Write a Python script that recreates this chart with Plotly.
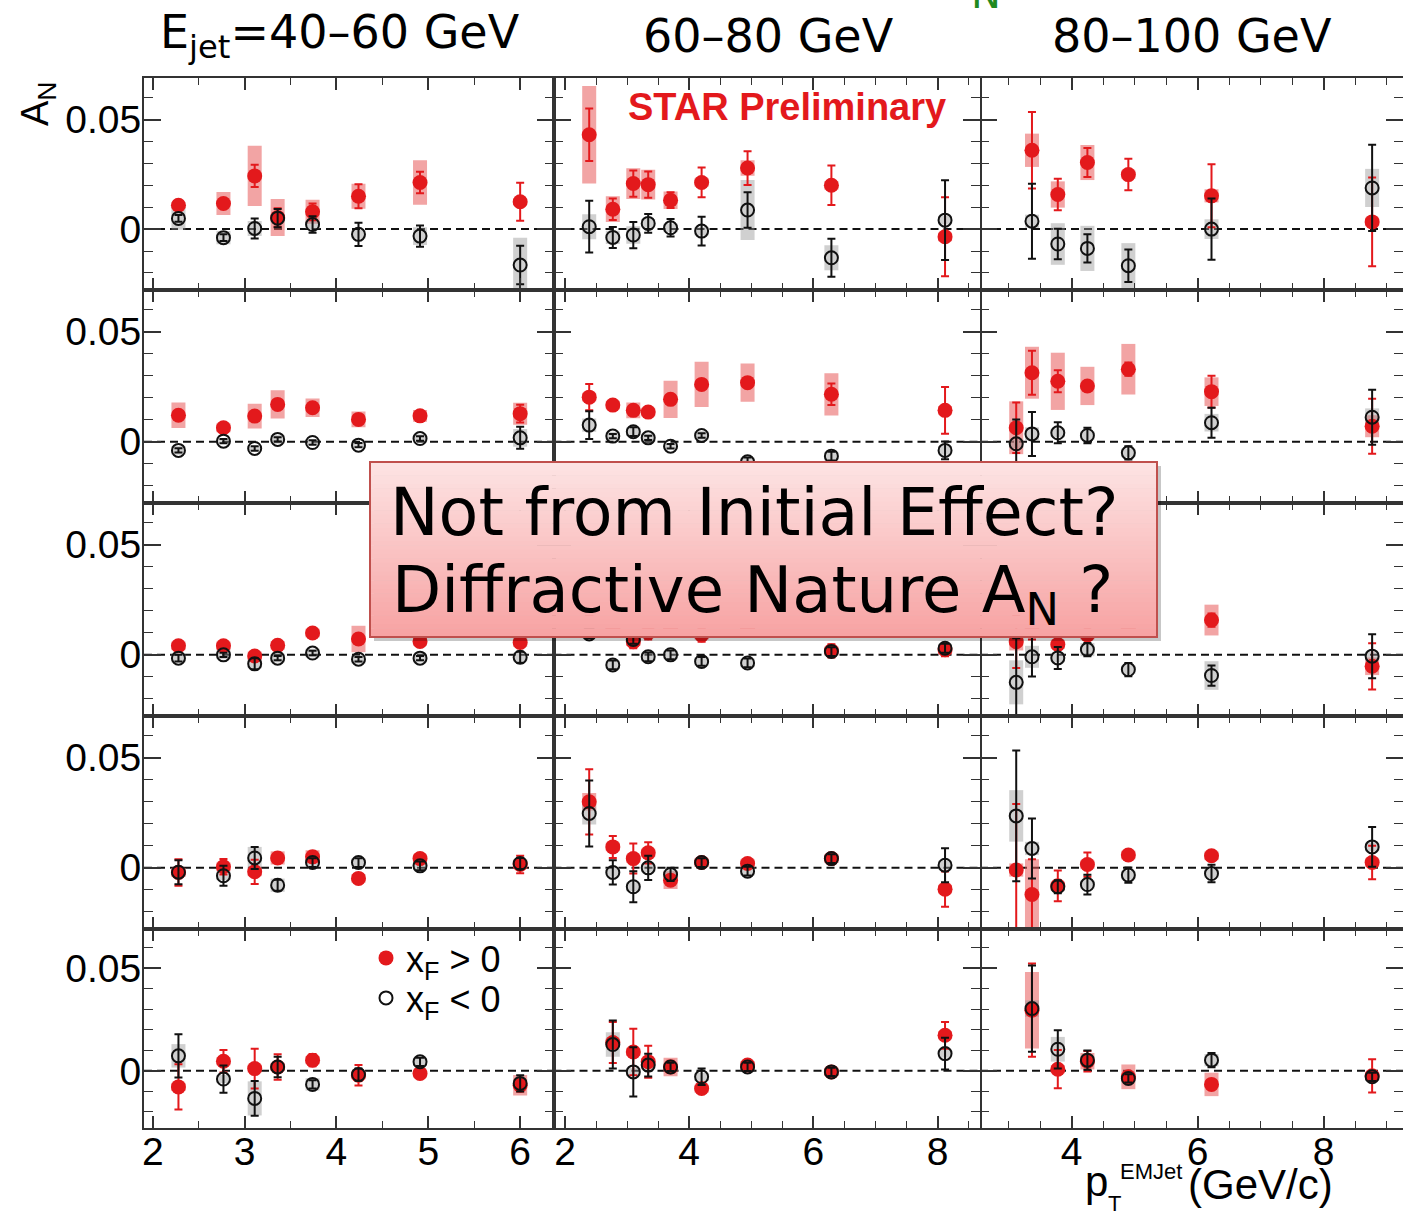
import plotly.graph_objects as go
from plotly.subplots import make_subplots

# ---------------------------------------------------------------------------
# Mean pT of each EM-jet bin (GeV/c), one list per jet-energy column
# ---------------------------------------------------------------------------
PT_40_60 = [2.28, 2.77, 3.11, 3.36, 3.74, 4.24, 4.91, 6.00]
PT_60_80 = [2.39, 2.77, 3.10, 3.34, 3.70, 4.20, 4.94, 6.29, 8.12]
PT_80_100 = [3.12, 3.37, 3.78, 4.25, 4.90, 6.22, 8.77]

COL_TITLES = ["E<sub>jet</sub>=40–60 GeV", "60–80 GeV", "80–100 GeV"]

# ---------------------------------------------------------------------------
# A_N, statistical and systematic uncertainties; one inner list per row
# (rows ordered top to bottom).  POS = x_F > 0, NEG = x_F < 0
# ---------------------------------------------------------------------------
AN_POS_40_60 = [
    [0.0109, 0.0117, 0.0243, 0.0053, 0.0079, 0.0150, 0.0213, 0.0125],
    [0.0121, 0.0064, 0.0117, 0.0170, 0.0155, 0.0102, 0.0118, 0.0128],
    [0.0041, 0.0041, -0.0005, 0.0043, 0.0099, 0.0072, 0.0061, 0.0056],
    [-0.0021, 0.0005, -0.0018, 0.0045, 0.0050, -0.0048, 0.0042, 0.0015],
    [-0.0078, 0.0047, 0.0011, 0.0019, 0.0052, -0.0021, -0.0013, -0.0070],
]
STAT_POS_40_60 = [
    [0.0020, 0.0020, 0.0051, 0.0042, 0.0038, 0.0055, 0.0049, 0.0087],
    [0.0015, 0.0015, 0.0015, 0.0015, 0.0015, 0.0015, 0.0015, 0.0040],
    [0.0015, 0.0015, 0.0015, 0.0015, 0.0015, 0.0015, 0.0015, 0.0015],
    [0.0060, 0.0035, 0.0055, 0.0020, 0.0020, 0.0020, 0.0020, 0.0040],
    [0.0110, 0.0055, 0.0097, 0.0062, 0.0030, 0.0050, 0.0020, 0.0030],
]
SYS_POS_40_60 = [
    [0.0015, 0.0052, 0.0138, 0.0085, 0.0055, 0.0057, 0.0102, 0.0015],
    [0.0058, 0.0020, 0.0056, 0.0064, 0.0042, 0.0036, 0.0027, 0.0050],
    [0.0020, 0.0020, 0.0020, 0.0020, 0.0020, 0.0060, 0.0020, 0.0020],
    [0.0020, 0.0020, 0.0020, 0.0030, 0.0030, 0.0020, 0.0020, 0.0020],
    [0.0020, 0.0020, 0.0020, 0.0020, 0.0020, 0.0020, 0.0020, 0.0050],
]
AN_NEG_40_60 = [
    [0.0049, -0.0039, 0.0003, 0.0050, 0.0021, -0.0024, -0.0032, -0.0164],
    [-0.0039, 0.0003, -0.0030, 0.0011, -0.0003, -0.0015, 0.0015, 0.0018],
    [-0.0015, 0.0000, -0.0041, -0.0015, 0.0008, -0.0020, -0.0015, -0.0011],
    [-0.0020, -0.0036, 0.0045, -0.0079, 0.0024, 0.0024, 0.0009, 0.0020],
    [0.0073, -0.0040, -0.0134, 0.0019, -0.0066, -0.0018, 0.0044, -0.0061],
]
STAT_NEG_40_60 = [
    [0.0015, 0.0015, 0.0046, 0.0042, 0.0038, 0.0053, 0.0048, 0.0088],
    [0.0010, 0.0010, 0.0010, 0.0010, 0.0010, 0.0010, 0.0010, 0.0050],
    [0.0015, 0.0010, 0.0025, 0.0010, 0.0010, 0.0010, 0.0010, 0.0025],
    [0.0055, 0.0045, 0.0050, 0.0025, 0.0020, 0.0020, 0.0020, 0.0025],
    [0.0105, 0.0066, 0.0085, 0.0050, 0.0020, 0.0030, 0.0020, 0.0040],
]
SYS_NEG_40_60 = [
    [0.0052, 0.0030, 0.0034, 0.0020, 0.0020, 0.0020, 0.0040, 0.0125],
    [0.0020, 0.0010, 0.0010, 0.0020, 0.0010, 0.0010, 0.0020, 0.0040],
    [0.0020, 0.0020, 0.0020, 0.0020, 0.0020, 0.0020, 0.0020, 0.0020],
    [0.0020, 0.0020, 0.0050, 0.0030, 0.0020, 0.0020, 0.0020, 0.0020],
    [0.0057, 0.0020, 0.0083, 0.0020, 0.0030, 0.0020, 0.0020, 0.0020],
]

AN_POS_60_80 = [
    [0.0431, 0.0091, 0.0208, 0.0203, 0.0132, 0.0213, 0.0279, 0.0200, -0.0035],
    [0.0203, 0.0167, 0.0143, 0.0135, 0.0193, 0.0261, 0.0269, 0.0216, 0.0143],
    [0.0150, 0.0120, 0.0060, 0.0100, 0.0120, 0.0090, 0.0120, 0.0018, 0.0023],
    [0.0300, 0.0095, 0.0042, 0.0068, -0.0056, 0.0024, 0.0020, 0.0042, -0.0097],
    [None, 0.0138, 0.0092, 0.0044, 0.0019, -0.0086, 0.0028, -0.0005, 0.0173],
]
STAT_POS_60_80 = [
    [0.0120, 0.0049, 0.0060, 0.0060, 0.0036, 0.0068, 0.0077, 0.0090, 0.0180],
    [0.0060, 0.0015, 0.0015, 0.0015, 0.0020, 0.0020, 0.0020, 0.0049, 0.0106],
    [0.0030, 0.0030, 0.0030, 0.0030, 0.0030, 0.0030, 0.0030, 0.0030, 0.0030],
    [0.0148, 0.0050, 0.0068, 0.0048, 0.0020, 0.0020, 0.0020, 0.0020, 0.0080],
    [None, 0.0100, 0.0113, 0.0078, 0.0030, 0.0020, 0.0020, 0.0020, 0.0065],
]
SYS_POS_60_80 = [
    [0.0223, 0.0059, 0.0070, 0.0068, 0.0040, 0.0020, 0.0035, 0.0020, 0.0020],
    [0.0020, 0.0020, 0.0036, 0.0020, 0.0085, 0.0103, 0.0087, 0.0096, 0.0020],
    [0.0020, 0.0020, 0.0020, 0.0020, 0.0020, 0.0020, 0.0020, 0.0020, 0.0020],
    [0.0040, 0.0020, 0.0020, 0.0020, 0.0040, 0.0020, 0.0020, 0.0020, 0.0020],
    [None, 0.0020, 0.0020, 0.0020, 0.0045, 0.0020, 0.0020, 0.0020, 0.0020],
]
AN_NEG_60_80 = [
    [0.0011, -0.0038, -0.0027, 0.0026, 0.0006, -0.0009, 0.0087, -0.0131, 0.0041],
    [0.0076, 0.0026, 0.0046, 0.0018, -0.0020, 0.0029, -0.0091, -0.0065, -0.0039],
    [0.0095, -0.0046, 0.0070, -0.0009, 0.0000, -0.0030, -0.0037, 0.0015, 0.0030],
    [0.0247, -0.0021, -0.0086, 0.0000, -0.0030, 0.0024, -0.0015, 0.0042, 0.0012],
    [None, 0.0128, -0.0005, 0.0028, 0.0019, -0.0029, 0.0019, -0.0005, 0.0084],
]
STAT_NEG_60_80 = [
    [0.0118, 0.0048, 0.0060, 0.0043, 0.0040, 0.0066, 0.0081, 0.0087, 0.0182],
    [0.0063, 0.0010, 0.0020, 0.0010, 0.0010, 0.0010, 0.0020, 0.0020, 0.0040],
    [0.0020, 0.0020, 0.0020, 0.0020, 0.0020, 0.0020, 0.0020, 0.0020, 0.0020],
    [0.0150, 0.0055, 0.0070, 0.0055, 0.0030, 0.0020, 0.0020, 0.0020, 0.0077],
    [None, 0.0117, 0.0120, 0.0055, 0.0020, 0.0040, 0.0020, 0.0020, 0.0077],
]
SYS_NEG_60_80 = [
    [0.0057, 0.0030, 0.0040, 0.0020, 0.0020, 0.0020, 0.0137, 0.0057, 0.0020],
    [0.0030, 0.0020, 0.0020, 0.0020, 0.0010, 0.0020, 0.0020, 0.0020, 0.0020],
    [0.0020, 0.0020, 0.0020, 0.0020, 0.0020, 0.0020, 0.0020, 0.0020, 0.0020],
    [0.0050, 0.0020, 0.0020, 0.0020, 0.0020, 0.0020, 0.0020, 0.0020, 0.0020],
    [None, 0.0060, 0.0020, 0.0020, 0.0020, 0.0020, 0.0020, 0.0020, 0.0020],
]

AN_POS_80_100 = [
    [None, 0.0360, 0.0158, 0.0304, 0.0249, 0.0152, 0.0033],
    [0.0064, 0.0314, 0.0275, 0.0254, 0.0330, 0.0228, 0.0071],
    [0.0060, 0.0110, 0.0047, 0.0090, 0.0120, 0.0158, -0.0052],
    [-0.0010, -0.0121, -0.0082, 0.0015, 0.0058, 0.0055, 0.0024],
    [None, 0.0295, 0.0008, 0.0047, -0.0029, -0.0066, -0.0024],
]
STAT_POS_80_100 = [
    [None, 0.0175, 0.0072, 0.0066, 0.0072, 0.0144, 0.0203],
    [0.0115, 0.0100, 0.0050, 0.0023, 0.0030, 0.0072, 0.0125],
    [0.0120, 0.0040, 0.0020, 0.0020, 0.0030, 0.0030, 0.0105],
    [0.0300, 0.0160, 0.0070, 0.0055, 0.0020, 0.0020, 0.0076],
    [None, 0.0227, 0.0093, 0.0050, 0.0020, 0.0020, 0.0081],
]
SYS_POS_80_100 = [
    [None, 0.0076, 0.0060, 0.0080, 0.0020, 0.0030, 0.0020],
    [0.0120, 0.0118, 0.0130, 0.0087, 0.0115, 0.0065, 0.0050],
    [0.0040, 0.0030, 0.0020, 0.0020, 0.0020, 0.0070, 0.0040],
    [0.0030, 0.0160, 0.0020, 0.0020, 0.0020, 0.0020, 0.0020],
    [None, 0.0186, 0.0020, 0.0040, 0.0060, 0.0057, 0.0020],
]
AN_NEG_80_100 = [
    [None, 0.0036, -0.0068, -0.0088, -0.0167, 0.0000, 0.0188],
    [-0.0009, 0.0036, 0.0041, 0.0029, -0.0050, 0.0087, 0.0112],
    [-0.0125, -0.0009, -0.0014, 0.0024, -0.0067, -0.0094, -0.0006],
    [0.0236, 0.0088, -0.0086, -0.0076, -0.0033, -0.0026, 0.0095],
    [None, 0.0303, 0.0105, 0.0052, -0.0037, 0.0052, -0.0029],
]
STAT_NEG_80_100 = [
    [None, 0.0171, 0.0070, 0.0064, 0.0074, 0.0140, 0.0197],
    [0.0110, 0.0100, 0.0048, 0.0035, 0.0030, 0.0068, 0.0125],
    [0.0200, 0.0090, 0.0050, 0.0030, 0.0030, 0.0046, 0.0100],
    [0.0297, 0.0136, 0.0030, 0.0045, 0.0035, 0.0040, 0.0090],
    [None, 0.0210, 0.0093, 0.0047, 0.0020, 0.0035, 0.0020],
]
SYS_NEG_80_100 = [
    [None, 0.0030, 0.0095, 0.0103, 0.0103, 0.0045, 0.0087],
    [0.0020, 0.0030, 0.0020, 0.0020, 0.0020, 0.0040, 0.0040],
    [0.0100, 0.0050, 0.0020, 0.0030, 0.0020, 0.0065, 0.0020],
    [0.0117, 0.0030, 0.0020, 0.0020, 0.0020, 0.0020, 0.0020],
    [None, 0.0040, 0.0060, 0.0020, 0.0020, 0.0030, 0.0020],
]

COLUMNS = [
    (PT_40_60, AN_POS_40_60, STAT_POS_40_60, SYS_POS_40_60,
     AN_NEG_40_60, STAT_NEG_40_60, SYS_NEG_40_60),
    (PT_60_80, AN_POS_60_80, STAT_POS_60_80, SYS_POS_60_80,
     AN_NEG_60_80, STAT_NEG_60_80, SYS_NEG_60_80),
    (PT_80_100, AN_POS_80_100, STAT_POS_80_100, SYS_POS_80_100,
     AN_NEG_80_100, STAT_NEG_80_100, SYS_NEG_80_100),
]

# ---------------------------------------------------------------------------
# Styling
# ---------------------------------------------------------------------------
W, H = 1403, 1213
ML, MR, MT, MB = 144, 0, 78, 85
PW, PH = W - ML - MR, H - MT - MB

RED = "#e3191c"
RED_SYS = "rgba(232,90,90,0.55)"
GREY_SYS = "rgba(150,150,150,0.45)"
BLACK = "#111111"
FRAME = "#333333"
SANS = "Liberation Sans, Arial, sans-serif"
TICK_FONT = dict(family=SANS, size=39, color="black")
HAND_FONT = "DejaVu Sans, sans-serif"

X_RANGES = [[1.905, 6.363], [1.815, 8.683], [2.545, 9.26]]
X_DTICK = [1, 2, 2]
Y_RANGE = [-0.0278, 0.069]


def px_x(p):
    return (p - ML) / PW


def px_y(p):
    return (H - MB - p) / PH


fig = make_subplots(
    rows=5, cols=3,
    column_widths=[409.5, 426.5, 423],
    row_heights=[212, 213, 213, 213, 199],
    horizontal_spacing=0, vertical_spacing=0,
)

for c, (pt, an_p, st_p, sy_p, an_n, st_n, sy_n) in enumerate(COLUMNS, start=1):
    for r in range(1, 6):
        i = r - 1
        first = (r == 1 and c == 1)
        # systematic boxes
        fig.add_trace(go.Scatter(
            x=pt, y=an_p[i], mode="markers",
            marker=dict(size=1, opacity=0),
            error_y=dict(type="data", array=sy_p[i], width=0, thickness=14, color=RED_SYS),
            showlegend=False, hoverinfo="skip"), row=r, col=c)
        fig.add_trace(go.Scatter(
            x=pt, y=an_n[i], mode="markers",
            marker=dict(size=1, opacity=0),
            error_y=dict(type="data", array=sy_n[i], width=0, thickness=14, color=GREY_SYS),
            showlegend=False, hoverinfo="skip"), row=r, col=c)
        # x_F > 0 points with statistical errors
        fig.add_trace(go.Scatter(
            x=pt, y=an_p[i], mode="markers",
            name="x<sub>F</sub> &gt; 0",
            marker=dict(symbol="circle", size=15, color=RED),
            error_y=dict(type="data", array=st_p[i], width=4, thickness=2, color=RED),
            showlegend=first, legend="legend"), row=r, col=c)
        # x_F < 0 points with statistical errors
        fig.add_trace(go.Scatter(
            x=pt, y=an_n[i], mode="markers",
            name="x<sub>F</sub> &lt; 0",
            marker=dict(symbol="circle-open", size=13, color=BLACK, line=dict(width=2)),
            error_y=dict(type="data", array=st_n[i], width=4, thickness=2, color=BLACK),
            showlegend=first, legend="legend2"), row=r, col=c)

        fig.update_xaxes(
            row=r, col=c, range=X_RANGES[c - 1],
            showline=True, linecolor=FRAME, linewidth=2, mirror="ticks",
            ticks="inside", ticklen=12, tickwidth=1.5, tickcolor=FRAME,
            tick0=0, dtick=X_DTICK[c - 1],
            minor=dict(ticks="inside", dtick=0.5, tick0=0, ticklen=7,
                       tickwidth=1.2, tickcolor=FRAME, showgrid=False),
            showgrid=False, zeroline=False,
            showticklabels=(r == 5), tickfont=TICK_FONT, ticklabelstandoff=-12,
        )
        fig.update_yaxes(
            row=r, col=c, range=Y_RANGE,
            showline=(c != 3), linecolor=FRAME, linewidth=2, mirror="ticks",
            ticks="inside", ticklen=17, tickwidth=1.5, tickcolor=FRAME,
            tick0=0, dtick=0.05,
            minor=dict(ticks="inside", dtick=0.01, tick0=0, ticklen=9,
                       tickwidth=1.2, tickcolor=FRAME, showgrid=False),
            showgrid=False, zeroline=False,
            showticklabels=(c == 1), tickfont=TICK_FONT, ticklabelstandoff=-7,
        )

# dashed zero line in every panel
fig.add_hline(y=0, line=dict(color=BLACK, width=2, dash="8px,5px"),
              layer="below", row="all", col="all")

# column headers
for cx, txt in zip([340, 768, 1192], COL_TITLES):
    fig.add_annotation(x=px_x(cx), y=px_y(36), xref="paper", yref="paper",
                       text=txt, showarrow=False, xanchor="center", yanchor="middle",
                       font=dict(family=HAND_FONT, size=46, color="black"))

# fragment of the header line above
fig.add_annotation(x=px_x(986), y=px_y(19), xref="paper", yref="paper",
                   text="N", showarrow=False, xanchor="center", yanchor="bottom",
                   font=dict(family=HAND_FONT, size=40, color="#1f8a1f"))

fig.add_annotation(x=px_x(787), y=px_y(107), xref="paper", yref="paper",
                   text="<b>STAR Preliminary</b>", showarrow=False,
                   xanchor="center", yanchor="middle",
                   font=dict(family=SANS, size=38, color=RED))

# y-axis title
fig.add_annotation(x=px_x(38), y=px_y(104), xref="paper", yref="paper",
                   text="A<sub>N</sub>", showarrow=False, textangle=-90,
                   xanchor="center", yanchor="middle",
                   font=dict(family=SANS, size=38, color="black"))

# x-axis title: p_T^EMJet (GeV/c)
fig.add_annotation(x=px_x(1096), y=px_y(1181), xref="paper", yref="paper", text="p",
                   showarrow=False, xanchor="center", yanchor="middle",
                   font=dict(family=SANS, size=42, color="black"))
fig.add_annotation(x=px_x(1151), y=px_y(1171), xref="paper", yref="paper", text="EMJet",
                   showarrow=False, xanchor="center", yanchor="middle",
                   font=dict(family=SANS, size=22, color="black"))
fig.add_annotation(x=px_x(1114), y=px_y(1203), xref="paper", yref="paper", text="T",
                   showarrow=False, xanchor="center", yanchor="middle",
                   font=dict(family=SANS, size=22, color="black"))
fig.add_annotation(x=px_x(1260), y=px_y(1184), xref="paper", yref="paper", text="(GeV/c)",
                   showarrow=False, xanchor="center", yanchor="middle",
                   font=dict(family=SANS, size=42, color="black"))

# call-out box with a soft vertical gradient and drop shadow
bx0, bx1 = px_x(370), px_x(1157)
by_top, by_bot = px_y(462), px_y(637)
sdx, sdy = 4 / PW, 4 / PH
fig.add_shape(type="rect", xref="paper", yref="paper",
              x0=bx0 + sdx, x1=bx1 + sdx, y0=by_bot - sdy, y1=by_top - sdy,
              fillcolor="rgba(0,0,0,0.22)", line=dict(width=0))
N_STRIPS = 40
top_rgb, bot_rgb = (253, 228, 228), (247, 162, 162)
for k in range(N_STRIPS):
    f = (k + 0.5) / N_STRIPS
    col = tuple(round(top_rgb[j] + (bot_rgb[j] - top_rgb[j]) * f) for j in range(3))
    y1 = by_top - (by_top - by_bot) * k / N_STRIPS
    y0 = by_top - (by_top - by_bot) * (k + 1) / N_STRIPS
    fig.add_shape(type="rect", xref="paper", yref="paper",
                  x0=bx0, x1=bx1, y0=y0 - 0.0005, y1=y1,
                  fillcolor="rgb(%d,%d,%d)" % col, line=dict(width=0))
fig.add_shape(type="rect", xref="paper", yref="paper",
              x0=bx0, x1=bx1, y0=by_bot, y1=by_top,
              fillcolor="rgba(0,0,0,0)", line=dict(color="#c0504d", width=2))

fig.add_annotation(x=px_x(388), y=px_y(512), xref="paper", yref="paper",
                   text="Not from Initial Effect?", showarrow=False,
                   xanchor="left", yanchor="middle",
                   font=dict(family=HAND_FONT, size=65, color="black"))
fig.add_annotation(x=px_x(390), y=px_y(594), xref="paper", yref="paper",
                   text="Diffractive Nature A<sub>N</sub> ?", showarrow=False,
                   xanchor="left", yanchor="middle",
                   font=dict(family=HAND_FONT, size=64, color="black"))

LEGEND_STYLE = dict(xanchor="left", yanchor="middle", bgcolor="rgba(0,0,0,0)",
                    borderwidth=0, itemwidth=30,
                    font=dict(family=SANS, size=36, color="black"))
fig.update_layout(
    width=W, height=H,
    margin=dict(l=ML, r=MR, t=MT, b=MB),
    paper_bgcolor="white", plot_bgcolor="white",
    template="none",
    showlegend=True,
    legend=dict(x=px_x(366), y=px_y(958), **LEGEND_STYLE),
    legend2=dict(x=px_x(366), y=px_y(998), **LEGEND_STYLE),
)

fig.write_html("out.html")
